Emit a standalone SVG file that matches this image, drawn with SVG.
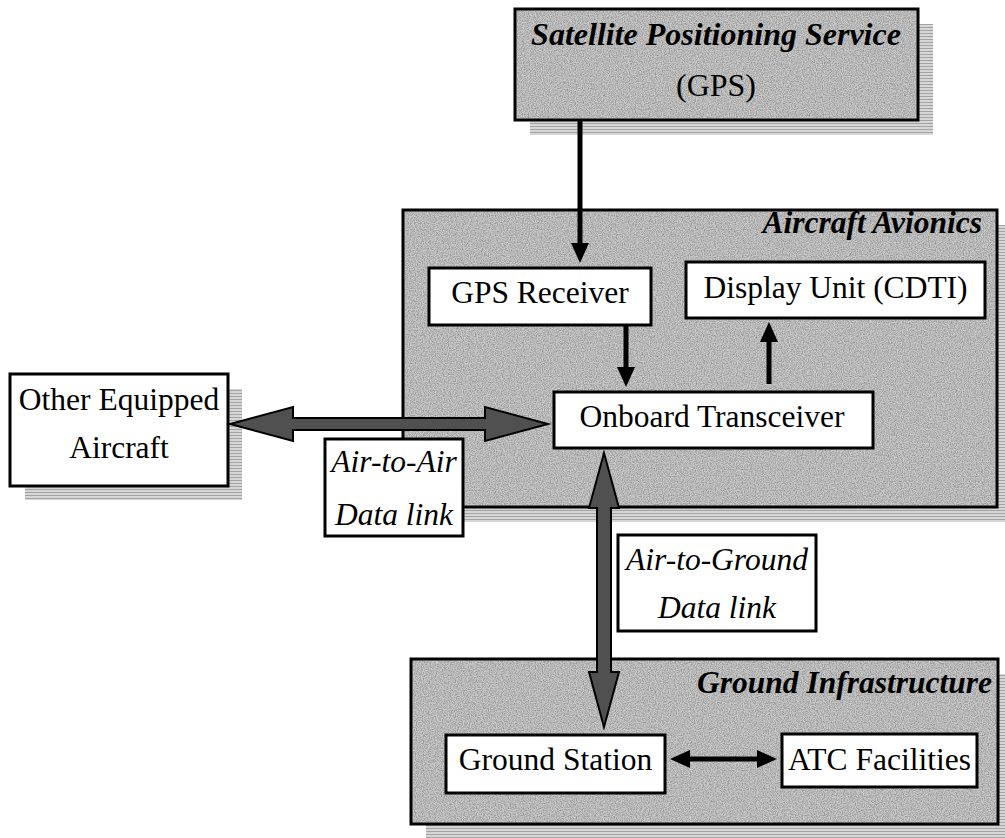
<svg xmlns="http://www.w3.org/2000/svg" width="1005" height="838" viewBox="0 0 1005 838">
<defs>
<style>
.t{font-family:"Liberation Serif","Times New Roman",serif;font-size:31.5px;fill:#000}
.i{font-style:italic}
.bi{font-style:italic;font-weight:bold}
.panel{fill:#cbcbcb;stroke:#000;stroke-width:3}
.box{fill:#fff;stroke:#000;stroke-width:3}
.shadow{fill:url(#stripe)}
.noise{filter:url(#noise)}
.thin{stroke:#000;stroke-width:5;fill:none;marker-end:url(#ah)}
.fat{fill:#505050;stroke:#000;stroke-width:2;stroke-linejoin:miter}
</style>
<pattern id="stripe" width="4" height="3" patternUnits="userSpaceOnUse">
<rect width="4" height="3" fill="#d6d6d6"/>
<rect width="4" height="1" fill="#a3a3a3"/>
</pattern>
<filter id="noise" x="0" y="0" width="100%" height="100%">
<feTurbulence type="fractalNoise" baseFrequency="0.85" numOctaves="2" seed="4" result="t"/>
<feColorMatrix in="t" type="matrix" values="0 0 0 0 0  0 0 0 0 0  0 0 0 0 0  0.6 0 0 0 -0.2" result="n"/>
<feComposite in="n" in2="SourceGraphic" operator="in"/>
</filter>
<marker id="ah" markerUnits="userSpaceOnUse" viewBox="0 0 20 18" markerWidth="20" markerHeight="18" refX="10" refY="9" orient="auto-start-reverse">
<path d="M0,0 L20,9 L0,18 Z" fill="#000"/>
</marker>
</defs>
<rect width="1005" height="838" fill="#fff"/>

<g id="gps-service">
<rect class="shadow" x="530" y="24" width="403" height="111"/>
<rect class="panel" x="515" y="9" width="403" height="111"/>
<rect class="noise" x="516.5" y="10.5" width="400" height="108" fill="#000"/>
<text class="t bi" x="716" y="45" text-anchor="middle" style="font-size:32px">Satellite Positioning Service</text>
<text class="t" x="716" y="96" text-anchor="middle" style="font-size:32px">(GPS)</text>
</g>

<g id="aircraft-avionics">
<rect class="shadow" x="418" y="225" width="594" height="297"/>
<rect class="panel" x="403" y="210" width="594" height="297"/>
<rect class="noise" x="404.5" y="211.5" width="591" height="294" fill="#000"/>
<text class="t bi" x="982" y="233" text-anchor="end">Aircraft Avionics</text>
</g>

<g id="ground-infrastructure">
<rect class="shadow" x="426" y="674" width="587" height="170"/>
<rect class="panel" x="411" y="659" width="587" height="165"/>
<rect class="noise" x="412.5" y="660.5" width="584" height="162" fill="#000"/>
<text class="t bi" x="992" y="693" text-anchor="end">Ground Infrastructure</text>
</g>

<g id="other-aircraft">
<rect class="shadow" x="25" y="389" width="217" height="111"/>
<rect class="box" x="10" y="374" width="218" height="112"/>
<text class="t" x="119" y="410" text-anchor="middle">Other Equipped</text>
<text class="t" x="119" y="458" text-anchor="middle">Aircraft</text>
</g>

<g id="gps-receiver">
<rect class="box" x="429" y="268" width="222" height="57"/>
<text class="t" x="540" y="303" text-anchor="middle">GPS Receiver</text>
</g>

<g id="display-unit">
<rect class="box" x="686" y="262" width="299" height="56"/>
<text class="t" x="835.5" y="298" text-anchor="middle">Display Unit (CDTI)</text>
</g>

<g id="onboard-transceiver">
<rect class="box" x="554" y="392" width="319" height="56"/>
<text class="t" x="712" y="427" text-anchor="middle">Onboard Transceiver</text>
</g>

<g id="ground-station">
<rect class="box" x="446" y="735" width="219" height="58"/>
<text class="t" x="555.5" y="770" text-anchor="middle">Ground Station</text>
</g>

<g id="atc-facilities">
<rect class="box" x="782" y="734" width="195" height="53"/>
<text class="t" x="879.5" y="770" text-anchor="middle">ATC Facilities</text>
</g>

<g id="connectors">
<line class="thin" x1="580" y1="120" x2="580" y2="253"/>
<line class="thin" x1="626" y1="325" x2="626" y2="377"/>
<line class="thin" x1="769" y1="384" x2="769" y2="332"/>
<line class="thin" x1="680" y1="759" x2="767" y2="759" style="marker-start:url(#ah)"/>
<polygon class="fat" points="230,424 293,407 293,418 485,418 485,407 548,424 485,441 485,430 293,430 293,441"/>
<polygon class="fat" points="604,453 619,508 611,508 611,672 619,672 604,727 589,672 597,672 597,508 589,508"/>
</g>

<g id="air-to-air-label">
<rect class="box" x="325" y="439" width="138" height="97"/>
<text class="t i" x="394" y="472" text-anchor="middle">Air-to-Air</text>
<text class="t i" x="394" y="525" text-anchor="middle">Data link</text>
</g>

<g id="air-to-ground-label">
<rect class="box" x="618" y="535" width="198" height="96"/>
<text class="t i" x="717" y="570" text-anchor="middle">Air-to-Ground</text>
<text class="t i" x="717" y="618" text-anchor="middle">Data link</text>
</g>
</svg>
